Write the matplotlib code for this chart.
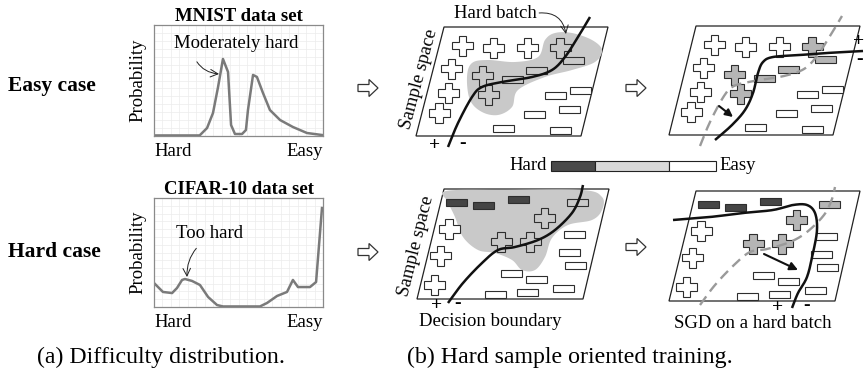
import matplotlib
matplotlib.use("Agg")
import matplotlib.pyplot as plt
from matplotlib.patches import Polygon, Rectangle
import numpy as np

plt.rcParams['font.family'] = ['Liberation Serif', 'DejaVu Serif']

# ---------------- data ----------------
case_labels = ['Easy case', 'Hard case']
dataset_titles = ['MNIST data set', 'CIFAR-10 data set']
difficulty_ticks = ['Hard', 'Easy']

mnist_x = [0.0, 0.27, 0.314, 0.349, 0.379, 0.408, 0.438, 0.456, 0.479, 0.521, 0.544,
           0.556, 0.586, 0.609, 0.645, 0.686, 0.746, 0.822, 0.905, 0.994]
mnist_y = [0.005, 0.005, 0.072, 0.207, 0.441, 0.694, 0.577, 0.099, 0.018, 0.018, 0.054,
           0.234, 0.550, 0.532, 0.387, 0.234, 0.144, 0.081, 0.027, 0.009]

cifar_x = [0.006, 0.053, 0.107, 0.136, 0.166, 0.183, 0.225, 0.272, 0.320, 0.373, 0.408,
           0.627, 0.669, 0.728, 0.787, 0.822, 0.852, 0.876, 0.923, 0.959, 0.994]
cifar_y = [0.211, 0.138, 0.128, 0.174, 0.248, 0.257, 0.239, 0.202, 0.092, 0.018, 0.005,
           0.005, 0.037, 0.101, 0.138, 0.248, 0.183, 0.183, 0.183, 0.229, 0.908]

curve_notes = ['Moderately hard', 'Too hard']

# sample-space diagrams (positions relative to the parallelogram's top-left corner)
crosses_A = [(18.5, 18.5), (49.5, 21), (83.5, 20.5), (116, 20.5), (7.5, 41.5),
             (38.5, 48.5), (4.5, 66), (44.5, 67.5), (-5, 86)]
crosses_A_hard = [3, 5, 7]
rects_A = [(129, 33), (92, 43), (68, 52), (136, 63), (111, 68), (125, 82), (90, 87),
           (59, 101), (116.5, 103)]
rects_A_hard = [0, 1, 2]

crosses_B = [(5, 40), (-3.5, 66.5), (-9.5, 96), (57, 52.5), (86, 52.5), (100.5, 29)]
crosses_B_hard = [3, 4, 5]
rects_B = [(12.5, 13.5), (39.5, 16.5), (74.5, 10), (133, 13.5), (130.5, 45), (125.5, 63.5),
           (131, 76), (67.5, 84.5), (92.5, 90), (119.5, 99.5), (51.5, 105), (83.5, 103.5)]
rects_B_toohard = [0, 1, 2]
rects_B_hard = [3]

boundary_A = [(4, 120), (14, 96), (28, 70), (38, 60), (58, 55), (88, 50), (108, 43),
              (121, 30), (134, 10), (146, -10)]
boundary_A_new = [(19, 114), (36, 99), (49, 84), (57, 67), (62, 47), (67, 36), (77, 31),
                  (104, 29), (131, 27), (167, 25)]
boundary_B = [(4, 114), (19, 94), (38, 74), (54, 61), (71, 58), (94, 51), (111, 41),
              (128, 24), (136, 8), (139, -4)]
boundary_B_new = [(-23, 29), (14, 26), (47, 22), (77, 19), (97, 14), (111, 14), (119, 22),
                  (121, 39), (117, 62), (111, 86), (102, 102), (96, 117)]

blob_A = [(467, 77), (472, 63), (488, 60), (515, 62), (538, 57), (545, 40), (555, 33),
          (572, 33), (592, 40), (602, 50), (595, 62), (572, 70), (545, 77), (518, 90),
          (512, 107), (498, 115), (482, 112), (470, 100)]
blob_B = [(446, 191), (505, 190), (582, 190), (602, 197), (602, 210), (592, 220),
          (568, 225), (552, 238), (545, 257), (535, 270), (522, 270), (512, 260),
          (495, 253), (478, 250), (463, 237), (455, 217), (448, 202)]

legend_labels = ['Hard', 'Easy']
legend_colors = ['#4a4a4a', '#d9d9d9', '#ffffff']

captions = ['(a) Difficulty distribution.', '(b) Hard sample oriented training.']

# ---------------- helpers ----------------
W, H = 866, 383
fig = plt.figure(figsize=(8.66, 3.83), dpi=100)


def px_axes(l, t, r, b, **kw):
    return fig.add_axes([l / W, 1 - b / H, (r - l) / W, (b - t) / H], **kw)


def smooth(pts, n=16, closed=False):
    P = np.asarray(pts, float)
    if closed:
        P = np.vstack([P[-1], P, P[0], P[1]])
    else:
        P = np.vstack([2 * P[0] - P[1], P, 2 * P[-1] - P[-2]])
    t = np.linspace(0, 1, n, endpoint=False)[:, None]
    out = []
    for i in range(1, len(P) - 2):
        p0, p1, p2, p3 = P[i - 1], P[i], P[i + 1], P[i + 2]
        out.append(0.5 * (2 * p1 + (-p0 + p2) * t + (2 * p0 - 5 * p1 + 4 * p2 - p3) * t ** 2
                          + (-p0 + 3 * p1 - 3 * p2 + p3) * t ** 3))
    out.append(P[-2][None, :])
    return np.vstack(out)


# ---------------- difficulty curves ----------------
curve_boxes = [(154, 25, 323, 136), (154, 198, 323, 307)]
curves = [(mnist_x, mnist_y), (cifar_x, cifar_y)]
for (l, t, r, b), (xs, ys), title in zip(curve_boxes, curves, dataset_titles):
    ax = px_axes(l, t, r, b, zorder=1)
    ax.plot(xs, ys, color='#7a7a7a', lw=1.8, solid_joinstyle='round')
    ax.set_xlim(0, 1)
    ax.set_ylim(0, 1)
    ax.set_xticks(np.linspace(0, 1, 21), minor=True)
    ax.set_yticks(np.linspace(0, 1, 15), minor=True)
    ax.grid(which='minor', color='#ececec', lw=0.5)
    ax.set_xticks([0, 1], difficulty_ticks, fontsize=13.5)
    ax.set_yticks([])
    ax.tick_params(axis='both', which='both', length=0)
    ax.tick_params(axis='x', which='major', pad=5)
    labs = ax.get_xticklabels()
    labs[0].set_ha('left')
    labs[1].set_ha('right')
    for s in ax.spines.values():
        s.set_color('#8a8a8a')
        s.set_linewidth(0.9)
    ax.set_ylabel('Probability', fontsize=13.5, labelpad=2)
    ax.set_title(title, fontsize=13.5, fontweight='bold', pad=3)

# ---------------- overlay ----------------
ov = fig.add_axes([0, 0, 1, 1], zorder=5)
ov.set_xlim(0, W)
ov.set_ylim(H, 0)
ov.axis('off')
ov.patch.set_alpha(0)

ov.text(8, 86, case_labels[0], fontsize=15.5, fontweight='bold', ha='left', va='center')
ov.text(8, 252, case_labels[1], fontsize=15.5, fontweight='bold', ha='left', va='center')

ov.annotate(curve_notes[0], xy=(219, 74), xytext=(236, 43), fontsize=13.5,
            ha='center', va='center',
            arrowprops=dict(arrowstyle='->', lw=0.7, color='#222',
                            shrinkA=6, shrinkB=0,
                            connectionstyle='arc3,rad=0.35', relpos=(0.15, 0.0)))
ov.annotate(curve_notes[1], xy=(187, 277), xytext=(210, 233), fontsize=13.5,
            ha='center', va='center',
            arrowprops=dict(arrowstyle='->', lw=0.7, color='#222',
                            shrinkA=4, shrinkB=0,
                            connectionstyle='arc3,rad=0.25', relpos=(0.4, 0.0)))

OUT = '#2e2e2e'


def hollow_arrow(x0, yc):
    pts = [(0, -3.5), (11, -3.5), (11, -8.5), (20, 0), (11, 8.5), (11, 3.5), (0, 3.5)]
    ov.add_patch(Polygon([(x0 + a, yc + b) for a, b in pts], closed=True,
                         facecolor='white', edgecolor='#333', lw=0.9, zorder=3))


def cross(cx, cy, fc):
    hw, hh, a = 10.5, 10, 3.6
    pts = [(-a, -hh), (a, -hh), (a, -a), (hw, -a), (hw, a), (a, a), (a, hh), (-a, hh),
           (-a, a), (-hw, a), (-hw, -a), (-a, -a)]
    ov.add_patch(Polygon([(cx + p, cy + q) for p, q in pts], closed=True,
                         facecolor=fc, edgecolor=OUT, lw=0.8, zorder=4))


def rect(cx, cy, fc):
    ov.add_patch(Rectangle((cx - 10.5, cy - 3.5), 21, 7, facecolor=fc, edgecolor=OUT,
                           lw=0.8, zorder=4))


def parallelogram(ox, oy, tr, br, bl):
    pts = [(ox, oy), (ox + tr[0], oy + tr[1]), (ox + br[0], oy + br[1]), (ox + bl[0], oy + bl[1])]
    ov.add_patch(Polygon(pts, closed=True, facecolor='white', edgecolor='#222', lw=0.9, zorder=2))


def line(pts, ox, oy, **kw):
    s = smooth([(ox + a, oy + b) for a, b in pts])
    ov.plot(s[:, 0], s[:, 1], **kw)


BLOB = '#c9c9c9'
HARDFILL = '#b5b5b5'
bold = dict(fontsize=14, fontweight='bold', ha='center', va='center', zorder=6)
dashed = dict(color='#9a9a9a', lw=1.7, ls=(0, (4.5, 2.6)), zorder=5)
solid = dict(color='#111', lw=1.8, zorder=6, solid_capstyle='butt')

# arrows between stages
for x0, yc in [(358, 88), (626, 88), (358, 252), (626, 247)]:
    hollow_arrow(x0, yc)

# --- panel 1: easy case, before ---
o1 = (444, 27)
parallelogram(*o1, (164, 0), (137, 109), (-28, 109))
b = smooth(blob_A, closed=True)
ov.add_patch(Polygon(b, closed=True, facecolor=BLOB, edgecolor='none', zorder=3))
for i, (x, y) in enumerate(crosses_A):
    cross(o1[0] + x, o1[1] + y, BLOB if i in crosses_A_hard else 'white')
for i, (x, y) in enumerate(rects_A):
    rect(o1[0] + x, o1[1] + y, BLOB if i in rects_A_hard else 'white')
line(boundary_A, *o1, **solid)
ov.text(435, 145, '+', **bold)
ov.text(463, 144, '-', **bold)
ov.text(419, 79, 'Sample space', fontsize=13.5, rotation=75, rotation_mode='anchor',
        ha='center', va='center')
ov.annotate('Hard batch', xy=(566, 34), xytext=(495, 13), fontsize=13.5,
            ha='center', va='center',
            arrowprops=dict(arrowstyle='->', lw=0.7, color='#222', shrinkA=0, shrinkB=0,
                            connectionstyle='arc3,rad=-0.45', relpos=(1.03, 0.5)))

# --- panel 2: easy case, after ---
o2 = (696, 26)
parallelogram(*o2, (164, 0), (137, 109), (-27, 109))
for i, (x, y) in enumerate(crosses_A):
    cross(o2[0] + x, o2[1] + y, HARDFILL if i in crosses_A_hard else 'white')
for i, (x, y) in enumerate(rects_A):
    rect(o2[0] + x, o2[1] + y, HARDFILL if i in rects_A_hard else 'white')
line(boundary_A, *o2, **dashed)
line(boundary_A_new, *o2, **solid)
ov.annotate('', xy=(733, 117), xytext=(719, 106),
            arrowprops=dict(arrowstyle='-|>', color='#111', lw=1.5, mutation_scale=11,
                            shrinkA=0, shrinkB=0), zorder=6)
ov.text(859, 42, '+', **bold)
ov.text(860, 60, '-', **bold)

# --- legend bar ---
bar_edges = [551, 595, 669, 716]
for x0, x1, c in zip(bar_edges[:-1], bar_edges[1:], legend_colors):
    ov.add_patch(Rectangle((x0, 161), x1 - x0, 10, facecolor=c, edgecolor='#222', lw=0.8))
ov.text(547, 166, legend_labels[0], fontsize=13.5, ha='right', va='center')
ov.text(719, 166, legend_labels[1], fontsize=13.5, ha='left', va='center')

# --- panel 3: hard case, before ---
o3 = (444, 189)
parallelogram(*o3, (165, 0), (139, 110), (-27, 110))
b = smooth(blob_B, closed=True)
ov.add_patch(Polygon(b, closed=True, facecolor=BLOB, edgecolor='none', zorder=3))
for i, (x, y) in enumerate(crosses_B):
    cross(o3[0] + x, o3[1] + y, BLOB if i in crosses_B_hard else 'white')
for i, (x, y) in enumerate(rects_B):
    fc = '#454545' if i in rects_B_toohard else (BLOB if i in rects_B_hard else 'white')
    rect(o3[0] + x, o3[1] + y, fc)
line(boundary_B, *o3, **solid)
ov.text(437, 305, '+', **bold)
ov.text(458, 304, '-', **bold)
ov.text(416, 246, 'Sample space', fontsize=13.5, rotation=76, rotation_mode='anchor',
        ha='center', va='center')
ov.text(490, 322, 'Decision boundary', fontsize=13.5, ha='center', va='center')

# --- panel 4: hard case, after ---
o4 = (696, 191)
parallelogram(*o4, (164, 0), (139, 110), (-27, 110))
for i, (x, y) in enumerate(crosses_B):
    cross(o4[0] + x, o4[1] + y, HARDFILL if i in crosses_B_hard else 'white')
for i, (x, y) in enumerate(rects_B):
    fc = '#454545' if i in rects_B_toohard else (HARDFILL if i in rects_B_hard else 'white')
    rect(o4[0] + x, o4[1] + y, fc)
line(boundary_B, *o4, **dashed)
line(boundary_B_new, *o4, **solid)
ov.annotate('', xy=(798, 270), xytext=(764, 254),
            arrowprops=dict(arrowstyle='-|>', color='#111', lw=1.5, mutation_scale=12,
                            shrinkA=0, shrinkB=0), zorder=6)
ov.text(778, 307, '+', **bold)
ov.text(807, 306, '-', **bold)
ov.text(753, 324, 'SGD on a hard batch', fontsize=13.5, ha='center', va='center')

# --- captions ---
ov.text(161, 357, captions[0], fontsize=17.2, ha='center', va='center')
ov.text(570, 357, captions[1], fontsize=17.2, ha='center', va='center')

fig.savefig('out.png', dpi=100)
